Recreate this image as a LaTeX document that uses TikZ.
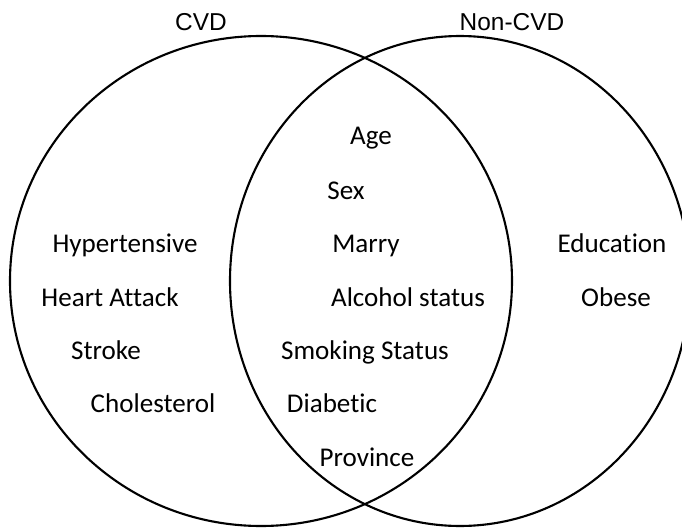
\documentclass[tikz,border=0pt]{standalone}
\usepackage{fontspec}
\setmainfont{Carlito}[Ligatures=NoCommon]
\newfontfamily\arialfont{Liberation Sans}

\tikzset{
  factor/.style={font=\fontsize{15.4}{18}\selectfont, anchor=base, inner sep=0pt},
  setname/.style={font=\arialfont\fontsize{13.9}{16}\selectfont, anchor=base, inner sep=0pt}
}

\begin{document}
\begin{tikzpicture}
        \useasboundingbox (0,0) rectangle (13.64,10.58);
        \clip (0,0) rectangle (13.64,10.58);
        \draw[draw=black, line width=1.2pt] (5.22,4.96) ellipse (5.02 and 4.90);
        \draw[draw=black, line width=1.2pt] (9.20,4.96) ellipse (4.60 and 4.90);
        \node[setname] (cvd) at (4.02,9.98) {CVD};
        \node[setname] (noncvd) at (10.24,9.98) {Non-CVD};
        \node[factor] (hyper) at (2.50,5.54) {Hypertensive};
        \node[factor] (heart) at (2.20,4.46) {Heart Attack};
        \node[factor] (stroke) at (2.12,3.40) {Stroke};
        \node[factor] (chol) at (3.06,2.34) {Cholesterol};
        \node[factor] (age) at (7.42,7.70) {Age};
        \node[factor] (sex) at (6.92,6.60) {Sex};
        \node[factor] (marry) at (7.32,5.54) {Marry};
        \node[factor] (alcohol) at (8.16,4.46) {Alcohol status};
        \node[factor] (smoking) at (7.30,3.40) {Smoking Status};
        \node[factor] (diab) at (6.64,2.34) {Diabetic};
        \node[factor] (prov) at (7.34,1.26) {Province};
        \node[factor] (edu) at (12.24,5.54) {Education};
        \node[factor] (obese) at (12.32,4.46) {Obese};
     \end{tikzpicture}
\end{document}
